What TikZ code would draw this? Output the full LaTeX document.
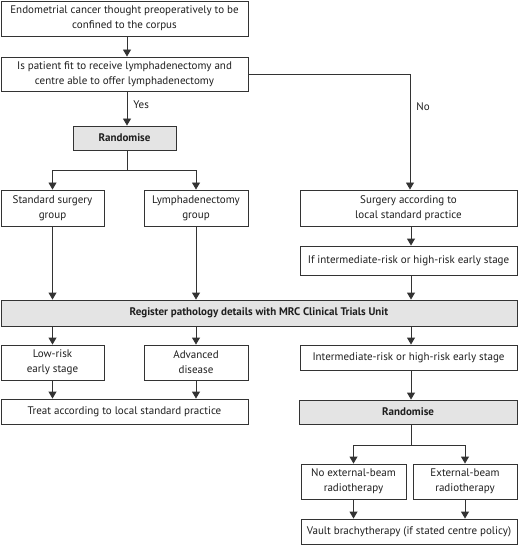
\documentclass[tikz,border=0pt]{standalone}
\usepackage{fontspec}
\setmainfont{PT Sans}
\usetikzlibrary{arrows.meta}
\definecolor{edge}{HTML}{333333}
\definecolor{greyfill}{HTML}{E4E4E4}
\begin{document}
\begin{tikzpicture}[x=1pt,y=-1pt,
  box/.style={draw=edge,line width=0.9pt,fill=white,align=center,inner sep=0pt,font=\fontsize{11}{15}\selectfont,text=black!88},
  gbox/.style={box,fill=greyfill,font=\fontsize{11}{15}\selectfont\bfseries},
  arr/.style={draw=edge,line width=0.9pt,-{Triangle[width=8pt,length=7pt]}},
  ln/.style={draw=edge,line width=0.9pt},
  lab/.style={font=\fontsize{11}{15}\selectfont,text=black!88,anchor=west,inner sep=0pt}]
\useasboundingbox (0,0) rectangle (518,545);
\node[box,minimum width=247,minimum height=35] (b1) at (124.5,18.5) {Endometrial cancer thought preoperatively to be\\confined to the corpus};
\node[box,minimum width=247,minimum height=34] (b2) at (124.5,74) {Is patient fit to receive lymphadenectomy and\\centre able to offer lymphadenectomy};
\node[gbox,minimum width=103,minimum height=24] (r1) at (124.5,138) {Randomise};
\node[box,minimum width=103,minimum height=36] (std) at (52.5,208) {Standard surgery\\group};
\node[box,minimum width=104,minimum height=36] (lym) at (196,208) {Lymphadenectomy\\group};
\node[box,minimum width=217,minimum height=36] (surg) at (408.5,208) {Surgery according to\\local standard practice};
\node[box,minimum width=217,minimum height=29] (ifint) at (408.5,260.5) {If intermediate-risk or high-risk early stage};
\node[gbox,minimum width=516,minimum height=26] (reg) at (259,313) {Register pathology details with MRC Clinical Trials Unit};
\node[box,minimum width=103,minimum height=35] (low) at (52.5,362.5) {Low-risk\\early stage};
\node[box,minimum width=104,minimum height=35] (adv) at (196,362.5) {Advanced\\disease};
\node[box,minimum width=217,minimum height=25] (inter) at (408.5,357.5) {Intermediate-risk or high-risk early stage};
\node[box,minimum width=247,minimum height=25] (treat) at (124.5,411.5) {Treat according to local standard practice};
\node[gbox,minimum width=218,minimum height=24] (r2) at (408,412) {Randomise};
\node[box,minimum width=105,minimum height=35] (noext) at (353.5,481.5) {No external-beam\\radiotherapy};
\node[box,minimum width=104,minimum height=35] (ext) at (465,481.5) {External-beam\\radiotherapy};
\node[box,minimum width=216,minimum height=25] (vault) at (409,531.5) {Vault brachytherapy (if stated centre policy)};
\coordinate (cx) at (127,0);
\coordinate (j1) at (127,170);
\coordinate (j2) at (411,445);
% top
\draw[arr] (b1.south -| cx) -- (b2.north -| cx);
\draw[arr] (b2.south -| cx) -- node[lab,pos=0.4,xshift=6pt] (yes) {Yes} (r1.north -| cx);
\draw[ln] (r1.south -| cx) -- (j1);
\draw[arr] (j1) -| (std.north);
\draw[arr] (j1) -| (lym.north);
\draw[arr] (b2.east) -| node[lab,pos=0.64,xshift=6pt] (no) {No} ([xshift=1.5pt]surg.north);
\draw[arr] ([xshift=2.5pt]surg.south) -- ([xshift=2.5pt]ifint.north);
\draw[arr] ([xshift=2.5pt]ifint.south) -- ([xshift=2.5pt]ifint.south |- reg.north);
\draw[arr] (std.south) -- (std.south |- reg.north);
\draw[arr] (lym.south) -- (lym.south |- reg.north);
% below register
\draw[arr] (reg.south -| low) -- (low.north);
\draw[arr] (reg.south -| adv) -- (adv.north);
\draw[arr] (reg.south -| j2) -- (inter.north -| j2);
\draw[arr] (low.south) -- (low.south |- treat.north);
\draw[arr] (adv.south) -- (adv.south |- treat.north);
\draw[arr] (inter.south -| j2) -- (r2.north -| j2);
\draw[ln] (r2.south -| j2) -- (j2);
\draw[arr] (j2) -| (noext.north);
\draw[arr] (j2) -| (ext.north);
\draw[arr] (noext.south) -- (noext.south |- vault.north);
\draw[arr] (ext.south) -- (ext.south |- vault.north);
\end{tikzpicture}
\end{document}
